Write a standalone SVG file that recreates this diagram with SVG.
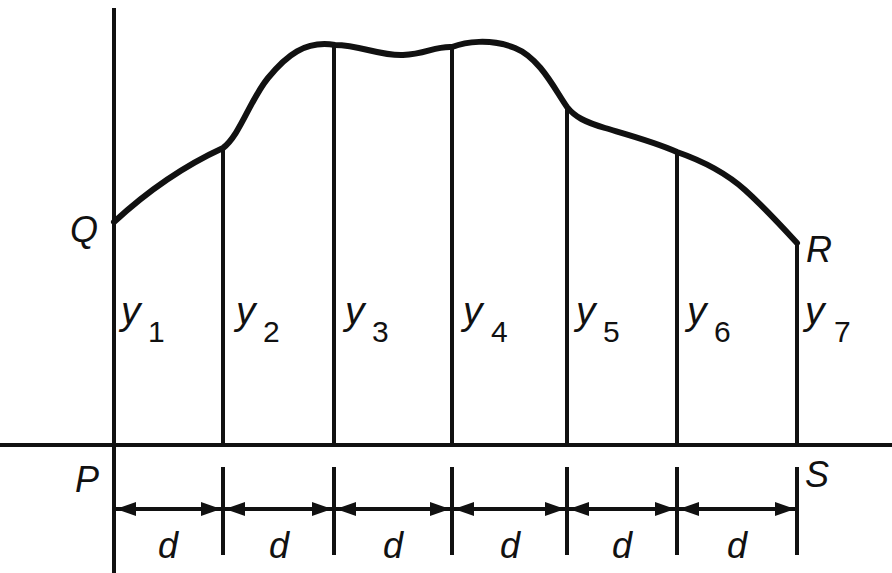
<svg xmlns="http://www.w3.org/2000/svg" width="892" height="573" viewBox="0 0 892 573">
<style>
.ln{stroke:#111;stroke-width:4;fill:none}
.cv{stroke:#111;stroke-width:6;fill:none;stroke-linejoin:round;stroke-linecap:round}
.lbl{font-family:"Liberation Sans",Arial,sans-serif;font-style:italic;font-size:36px;fill:#111}
.yl{font-family:"Liberation Sans",Arial,sans-serif;font-style:italic;font-size:39px;fill:#111}
.sub{font-style:normal;font-size:30px}
</style>
<defs>
<marker id="ah" viewBox="0 0 20 14" refX="20" refY="7" markerWidth="20" markerHeight="14" markerUnits="userSpaceOnUse" orient="auto-start-reverse">
<path d="M0,0 L20,7 L0,14 Z" fill="#111"/>
</marker>
</defs>
<rect width="892" height="573" fill="#fff"/>
<g id="axes">
<line class="ln" x1="114" y1="8" x2="114" y2="573"/>
<line class="ln" x1="0" y1="445" x2="892" y2="445"/>
</g>
<g id="curve">
<path class="cv" d="M114,222 C140,198 175,170 223,148 C240,135 250,100 268,78 S305,40 335,45 C360,45 380,56 403,55 S435,46 452,47 C465,42 490,38 515,48 S555,90 567,107 C575,117 585,122 605,128 S655,142 677,152 C700,160 725,172 745,190 S785,230 797,243"/>
</g>
<g id="ordinates">
<line class="ln" x1="223" y1="148" x2="223" y2="445"/>
<line class="ln" x1="334" y1="45" x2="334" y2="445"/>
<line class="ln" x1="452" y1="47" x2="452" y2="445"/>
<line class="ln" x1="567" y1="107" x2="567" y2="445"/>
<line class="ln" x1="677" y1="152" x2="677" y2="445"/>
<line class="ln" x1="797" y1="243" x2="797" y2="445"/>
</g>
<g id="ticks">
<line class="ln" x1="223" y1="467" x2="223" y2="555"/>
<line class="ln" x1="334" y1="467" x2="334" y2="555"/>
<line class="ln" x1="452" y1="467" x2="452" y2="555"/>
<line class="ln" x1="567" y1="467" x2="567" y2="555"/>
<line class="ln" x1="677" y1="467" x2="677" y2="555"/>
<line class="ln" x1="797" y1="467" x2="797" y2="555"/>
</g>
<g id="connectors">
<line class="ln" x1="116" y1="509" x2="221" y2="509" marker-start="url(#ah)" marker-end="url(#ah)"/>
<line class="ln" x1="225" y1="509" x2="332" y2="509" marker-start="url(#ah)" marker-end="url(#ah)"/>
<line class="ln" x1="336" y1="509" x2="450" y2="509" marker-start="url(#ah)" marker-end="url(#ah)"/>
<line class="ln" x1="454" y1="509" x2="565" y2="509" marker-start="url(#ah)" marker-end="url(#ah)"/>
<line class="ln" x1="569" y1="509" x2="675" y2="509" marker-start="url(#ah)" marker-end="url(#ah)"/>
<line class="ln" x1="679" y1="509" x2="795" y2="509" marker-start="url(#ah)" marker-end="url(#ah)"/>
</g>
<g id="points">
<text class="lbl" x="70" y="242">Q</text>
<text class="lbl" x="806" y="262">R</text>
<text class="lbl" x="75" y="492">P</text>
<text class="lbl" x="805" y="487">S</text>
</g>
<g id="ordinate-labels">
<text class="yl" x="121" y="324">y<tspan class="sub" x="148" y="342">1</tspan></text>
<text class="yl" x="236" y="324">y<tspan class="sub" x="263" y="342">2</tspan></text>
<text class="yl" x="345" y="324">y<tspan class="sub" x="372" y="342">3</tspan></text>
<text class="yl" x="463" y="324">y<tspan class="sub" x="491" y="342">4</tspan></text>
<text class="yl" x="576" y="324">y<tspan class="sub" x="603" y="342">5</tspan></text>
<text class="yl" x="687" y="324">y<tspan class="sub" x="714" y="342">6</tspan></text>
<text class="yl" x="805" y="324">y<tspan class="sub" x="834" y="342">7</tspan></text>
</g>
<g id="spacing-labels">
<text class="lbl" x="168" y="558" text-anchor="middle">d</text>
<text class="lbl" x="279" y="558" text-anchor="middle">d</text>
<text class="lbl" x="393" y="558" text-anchor="middle">d</text>
<text class="lbl" x="510" y="558" text-anchor="middle">d</text>
<text class="lbl" x="622" y="558" text-anchor="middle">d</text>
<text class="lbl" x="737" y="558" text-anchor="middle">d</text>
</g>
</svg>
